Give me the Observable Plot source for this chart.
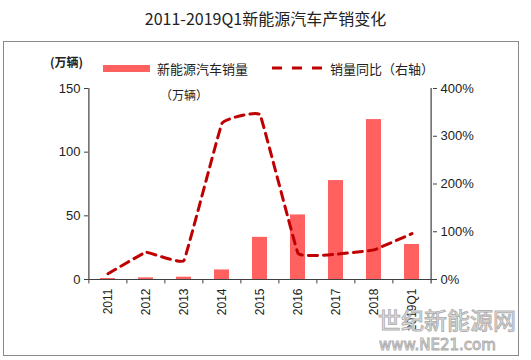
<!DOCTYPE html>
<html><head><meta charset="utf-8">
<script src="https://cdn.jsdelivr.net/npm/d3@7"></script>
<script src="https://cdn.jsdelivr.net/npm/@observablehq/plot@0.6"></script>
<style>
body{margin:0;background:#fff;}
#wrap{position:relative;width:531px;height:360px;overflow:hidden;font-family:"Liberation Sans",Arial,sans-serif;background:#fff;}
#title{position:absolute;left:0;width:531px;top:6px;text-align:center;font-family:"Noto Sans CJK SC",sans-serif;font-size:16px;color:#222;}
#frame{position:absolute;left:3px;top:41px;width:514px;height:313px;border:1px solid #8a8a8a;}
#chart{position:absolute;left:0;top:40px;}
.cjk{font-family:"Noto Sans CJK SC",sans-serif;color:#222;position:absolute;white-space:nowrap;line-height:1;}
#wm1{position:absolute;left:378px;top:308px;line-height:1;font-family:"Noto Sans CJK SC",sans-serif;font-size:23px;color:#f4f4f4;-webkit-text-stroke:1px #b0b0b0;}
#wm2{position:absolute;left:379px;top:338px;line-height:1;font-family:"DejaVu Sans",sans-serif;font-size:15px;color:#f4f4f4;-webkit-text-stroke:1px #b0b0b0;}
</style></head><body>
<div id="wrap">
  <div id="title">2011-2019Q1新能源汽车产销变化</div>
  <div id="frame"></div>
  <div id="chart"></div>
  <div class="cjk" style="left:50px;top:56px;font-size:12px;font-weight:bold;">(万辆)</div>
  <div style="position:absolute;left:103px;top:65px;width:47px;height:7px;background:#FF6161;"></div>
  <div class="cjk" style="left:157px;top:62px;font-size:13px;">新能源汽车销量</div>
  <svg style="position:absolute;left:272px;top:64px;" width="54" height="8"><line x1="0" y1="4" x2="54" y2="4" stroke="#C00000" stroke-width="3" stroke-dasharray="10,10"/></svg>
  <div class="cjk" style="left:330px;top:62px;font-size:13px;">销量同比（右轴）</div>
  <div class="cjk" style="left:160px;top:89px;font-size:12px;">（万辆）</div>
  <div id="wm1">世纪新能源网</div>
  <div id="wm2">www.NE21.com</div>
</div>
<script>
const categories = ["2011","2012","2013","2014","2015","2016","2017","2018","2019Q1"];
const sales = [0.8, 1.3, 1.8, 7.5, 33.1, 50.7, 77.7, 125.6, 27.5];
const growth = [12, 57, 40, 327, 345, 55, 53, 62, 96];
const leftTicks = [0, 50, 100, 150];
const rightTicks = [0, 100, 200, 300, 400];

const W = 531, H = 320, ml = 88, mr = 99, mt = 48, mb = 81;
const k = 150 / 400;
const step = (W - ml - mr) / categories.length;
const rows = categories.map((c, i) => ({cat: c, sales: sales[i], growth: growth[i] * k}));
const axisColor = "#404040";

const chart = Plot.plot({
  width: W, height: H,
  marginLeft: ml, marginRight: mr, marginTop: mt, marginBottom: mb,
  style: {fontFamily: "'Liberation Sans', Arial, sans-serif", fontSize: "13px", color: "#222", background: "transparent"},
  x: {type: "band", domain: categories, paddingInner: 0.6, paddingOuter: 0.3, label: null},
  y: {domain: [0, 150], label: null},
  marks: [
    Plot.barY(rows, {x: "cat", y: "sales", fill: "#FF6161"}),
    Plot.line(rows, {x: "cat", y: "growth", stroke: "#C00000", strokeWidth: 3, strokeDasharray: "9,6", curve: "cardinal", tension: 0.8}),
    Plot.ruleY([0], {stroke: axisColor, strokeWidth: 1.2, insetRight: -4}),
    Plot.ruleX(categories, {x: d => d, dx: -step / 2, y1: -3.5, y2: 0, stroke: axisColor}),
    Plot.ruleX([categories[0]], {x: d => d, dx: -step / 2, y1: 0, y2: 150, stroke: axisColor, strokeWidth: 1.2}),
    Plot.ruleX([categories[categories.length - 1]], {x: d => d, dx: step / 2, y1: -3.5, y2: 150, stroke: axisColor, strokeWidth: 1.2}),
    Plot.axisY(leftTicks, {anchor: "left", tickSize: 4, tickPadding: 4, stroke: axisColor, fontSize: 13, label: null}),
    Plot.axisY(rightTicks.map(v => v * k), {anchor: "right", tickSize: 4, tickPadding: 4, stroke: axisColor, fontSize: 13, tickFormat: d => Math.round(d / k) + "%", label: null}),
    Plot.axisX({tickSize: 0, tickRotate: -90, tickPadding: 9, fontSize: 12, label: null})
  ]
});
document.getElementById("chart").appendChild(chart);
</script>
</body></html>
